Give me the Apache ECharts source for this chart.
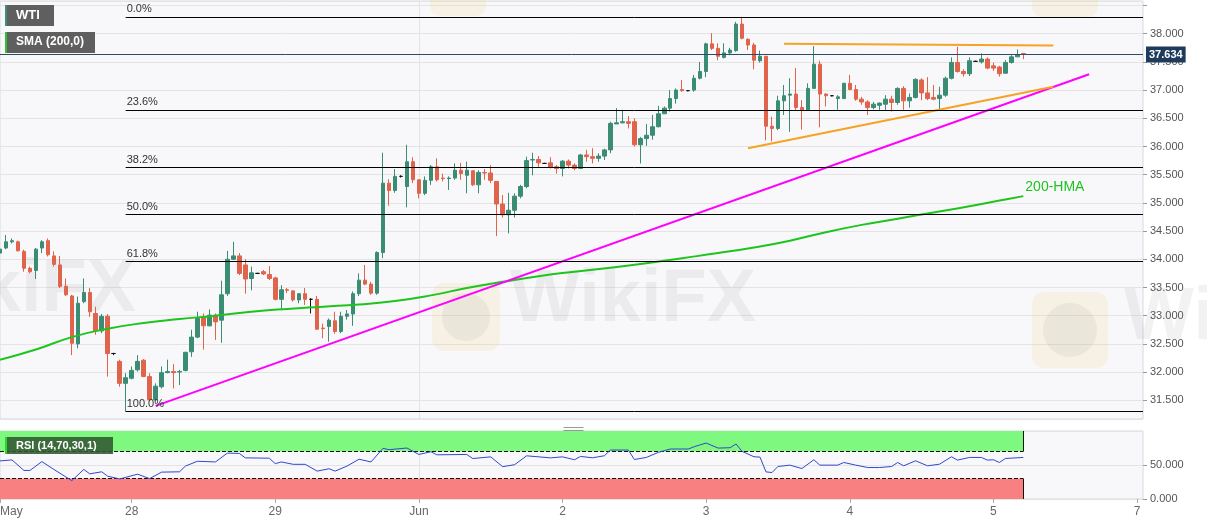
<!DOCTYPE html>
<html>
<head>
<meta charset="utf-8">
<title>WTI</title>
<script src="https://cdn.jsdelivr.net/npm/echarts@6/dist/echarts.min.js"></script>
<style>
html, body { margin: 0; padding: 0; background: #fff; }
#chart { width: 1207px; height: 526px; }
</style>
</head>
<body>
<div id="chart"></div>
<script>
// hourly slots, May 27 02:00 .. Jun 7
var slotCount = 192;
var dayTicks = ['May', '28', '29', 'Jun', '2', '3', '4', '5', '7'];
var dayTickSlots = [0, 22, 46, 70, 94, 118, 142, 166, 190];
var monthSlot = 70;

// [open, close, low, high]
var candles = [
    [34.11, 34.18, 34.08, 34.20], [34.20, 34.31, 34.18, 34.43], [34.31, 34.33, 34.28, 34.37], [34.31, 34.15, 34.14, 34.33],
    [34.14, 33.84, 33.78, 34.17], [33.84, 33.78, 33.75, 33.87], [33.80, 34.18, 33.65, 34.20], [34.20, 34.31, 34.11, 34.34],
    [34.33, 34.08, 34.05, 34.37], [34.06, 33.91, 33.87, 34.14], [33.90, 33.52, 33.49, 34.06], [33.52, 33.37, 33.35, 33.66],
    [33.35, 32.51, 32.30, 33.37], [32.50, 33.22, 32.42, 33.34], [33.25, 33.41, 33.22, 33.66], [33.41, 33.07, 32.98, 33.49],
    [33.04, 32.73, 32.66, 33.16], [32.73, 32.99, 32.69, 33.03], [32.99, 32.33, 31.92, 33.03], [32.33, 32.33, 32.30, 32.34],
    [32.19, 31.80, 31.74, 32.22], [31.80, 31.90, 31.30, 31.98], [31.89, 32.03, 31.87, 32.10], [32.04, 32.19, 32.01, 32.30],
    [32.21, 31.92, 31.91, 32.23], [31.92, 31.51, 31.48, 31.98], [31.51, 31.75, 31.48, 31.80], [31.74, 31.99, 31.71, 32.10],
    [31.99, 32.01, 31.98, 32.22], [32.01, 31.99, 31.71, 32.14], [32.00, 32.01, 31.77, 32.04], [32.03, 32.35, 32.01, 32.36],
    [32.36, 32.62, 32.27, 32.75], [32.62, 32.95, 32.60, 33.07], [32.98, 32.82, 32.40, 33.04], [32.82, 33.01, 32.81, 33.11],
    [33.01, 32.89, 32.57, 33.04], [32.92, 33.37, 32.52, 33.62], [33.39, 34.00, 33.35, 34.15], [34.00, 34.06, 33.99, 34.31],
    [34.06, 33.75, 33.72, 34.11], [33.90, 33.65, 33.39, 34.00], [33.66, 33.76, 33.45, 33.87], [33.75, 33.75, 33.74, 33.76],
    [33.78, 33.74, 33.72, 33.81], [33.73, 33.66, 33.63, 33.88], [33.67, 33.29, 33.27, 33.69], [33.29, 33.46, 33.10, 33.54],
    [33.46, 33.45, 33.40, 33.49], [33.44, 33.28, 33.25, 33.44], [33.28, 33.39, 33.22, 33.40], [33.39, 33.29, 33.19, 33.49],
    [33.29, 33.29, 33.04, 33.31], [33.29, 32.76, 32.75, 33.35], [32.78, 32.77, 32.60, 32.86], [32.81, 32.92, 32.54, 32.95],
    [32.91, 32.72, 32.68, 33.07], [32.72, 32.99, 32.69, 33.07], [32.99, 33.03, 32.93, 33.10], [33.03, 33.39, 32.82, 33.43],
    [33.39, 33.63, 33.35, 33.75], [33.63, 33.56, 33.54, 33.90], [33.56, 33.40, 33.37, 33.60], [33.40, 34.12, 33.37, 34.14],
    [34.12, 35.35, 34.02, 35.89], [35.35, 35.22, 34.95, 35.42], [35.22, 35.47, 35.18, 35.60], [35.47, 35.47, 35.45, 35.49],
    [35.29, 35.73, 34.92, 36.03], [35.73, 35.41, 35.35, 35.81], [35.41, 35.17, 35.08, 35.41], [35.17, 35.40, 35.14, 35.47],
    [35.40, 35.64, 35.32, 35.67], [35.64, 35.41, 35.38, 35.79], [35.44, 35.43, 35.38, 35.52], [35.43, 35.44, 35.23, 35.47],
    [35.44, 35.58, 35.41, 35.70], [35.58, 35.52, 35.41, 35.71], [35.49, 35.58, 35.17, 35.73], [35.57, 35.32, 35.30, 35.58],
    [35.32, 35.54, 35.17, 35.58], [35.54, 35.53, 35.41, 35.60], [35.53, 35.40, 35.35, 35.67], [35.38, 34.98, 34.41, 35.38],
    [34.98, 34.79, 34.74, 35.14], [34.79, 34.87, 34.46, 35.18], [34.87, 35.12, 34.74, 35.17], [35.12, 35.29, 35.08, 35.32],
    [35.29, 35.75, 35.26, 35.82], [35.76, 35.77, 35.49, 35.89], [35.77, 35.71, 35.64, 35.83], [35.70, 35.70, 35.69, 35.71],
    [35.71, 35.63, 35.61, 35.81], [35.64, 35.61, 35.52, 35.67], [35.61, 35.74, 35.47, 35.76], [35.74, 35.67, 35.61, 35.77],
    [35.67, 35.61, 35.58, 35.70], [35.61, 35.85, 35.60, 35.87], [35.85, 35.82, 35.73, 35.94], [35.82, 35.79, 35.70, 35.97],
    [35.79, 35.83, 35.73, 35.88], [35.83, 35.94, 35.76, 35.96], [35.94, 36.41, 35.88, 36.44], [36.40, 36.42, 36.40, 36.68],
    [36.42, 36.44, 36.41, 36.65], [36.44, 36.41, 36.32, 36.54], [36.44, 36.03, 36.00, 36.50], [36.03, 36.14, 35.70, 36.17],
    [36.14, 36.20, 36.01, 36.40], [36.20, 36.35, 36.12, 36.56], [36.35, 36.58, 36.34, 36.72], [36.58, 36.68, 36.58, 36.71],
    [36.68, 36.85, 36.62, 37.00], [36.85, 37.00, 36.76, 37.03], [37.01, 36.99, 36.97, 37.18], [36.99, 36.99, 36.98, 37.00],
    [37.00, 37.21, 36.97, 37.27], [37.21, 37.33, 37.19, 37.50], [37.33, 37.82, 37.23, 37.84], [37.82, 37.74, 37.71, 38.01],
    [37.74, 37.60, 37.53, 37.83], [37.58, 37.66, 37.56, 37.83], [37.66, 37.71, 37.62, 37.75], [37.70, 38.17, 37.68, 38.21],
    [38.17, 37.92, 37.90, 38.30], [37.90, 37.80, 37.71, 37.92], [37.80, 37.53, 37.37, 37.84], [37.52, 37.60, 37.49, 37.70],
    [37.60, 36.36, 36.11, 37.60], [36.36, 36.32, 36.09, 36.53], [36.32, 36.81, 36.29, 36.90], [36.81, 36.90, 36.56, 37.09],
    [36.91, 36.93, 36.26, 37.21], [36.93, 36.69, 36.65, 37.39], [36.69, 36.65, 36.30, 36.82], [36.65, 37.03, 36.64, 37.12],
    [37.03, 37.46, 37.03, 37.78], [37.46, 36.93, 36.34, 37.52], [36.93, 36.90, 36.71, 36.94], [36.90, 36.90, 36.89, 36.91],
    [36.85, 36.88, 36.65, 36.91], [36.85, 37.12, 36.84, 37.13], [37.12, 37.01, 37.00, 37.27], [37.01, 36.84, 36.81, 37.09],
    [36.84, 36.79, 36.74, 36.88], [36.79, 36.69, 36.56, 36.82], [36.69, 36.75, 36.66, 36.79], [36.73, 36.77, 36.65, 36.78],
    [36.75, 36.84, 36.65, 36.91], [36.84, 36.78, 36.62, 36.90], [36.78, 37.03, 36.74, 37.05], [37.03, 36.81, 36.65, 37.07],
    [36.81, 36.87, 36.69, 36.94], [36.87, 37.19, 36.85, 37.21], [37.18, 36.95, 36.82, 37.21], [36.95, 36.85, 36.82, 37.23],
    [36.87, 36.84, 36.82, 37.09], [36.85, 36.91, 36.66, 37.06], [36.91, 37.21, 36.88, 37.24], [37.21, 37.49, 37.19, 37.58],
    [37.49, 37.33, 37.31, 37.77], [37.33, 37.29, 37.24, 37.37], [37.29, 37.52, 37.25, 37.58], [37.51, 37.51, 37.50, 37.52],
    [37.50, 37.55, 37.47, 37.65], [37.55, 37.39, 37.37, 37.58], [37.43, 37.39, 37.34, 37.49], [37.41, 37.29, 37.24, 37.43],
    [37.30, 37.49, 37.29, 37.53], [37.49, 37.59, 37.47, 37.62], [37.59, 37.63, 37.59, 37.72], [37.65, 37.634, 37.55, 37.66]
];

// [slot, value]
var smaPoints = [
    [0, 32.22], [6, 32.40], [12, 32.62], [18, 32.77], [24, 32.87], [30, 32.94], [36, 33.00], [42, 33.07],
    [48, 33.12], [54, 33.16], [60, 33.20], [66, 33.26], [72, 33.36], [78, 33.49], [84, 33.60], [90, 33.70],
    [96, 33.78], [102, 33.85], [108, 33.93], [114, 34.02], [120, 34.11], [126, 34.21], [132, 34.33], [138, 34.48],
    [144, 34.61], [150, 34.72], [156, 34.83], [162, 34.94], [168, 35.06], [171, 35.12]
];

var rsiPoints = [
    [0, 56], [2, 57.5], [4, 42], [5, 42], [7, 55], [9, 43.5], [12, 27], [14, 43.5], [15, 37], [17, 40],
    [18, 33.5], [20, 29.5], [23, 36.5], [25, 30], [27, 39.5], [30, 40], [31, 48.5], [33, 55.5], [36, 54.5], [38, 67.5],
    [40, 67], [41, 60.5], [45, 60], [46, 52], [47, 54.5], [49, 51], [51, 51], [53, 41], [55, 44.5], [56, 41],
    [58, 48.5], [60, 58.5], [62, 54.5], [64, 74.5], [65, 72.5], [68, 75], [70, 65.5], [72, 69.5], [73, 65], [78, 65.5],
    [79, 59.5], [82, 62], [84, 47.5], [86, 50.5], [88, 63.5], [92, 60.5], [94, 62], [96, 57.7], [97, 62.6], [99, 60.6],
    [101, 63.6], [102, 72], [105, 72], [106, 58.1], [108, 61.1], [110, 68.5], [112, 73.5], [115, 73.5], [116, 76.9], [118, 82.3],
    [120, 74.9], [122, 75.4], [123, 80.9], [124, 70], [126, 62.1], [127, 61.6], [128, 39.9], [129, 38.9], [130, 47.8], [132, 49.8],
    [134, 44.8], [136, 57.7], [137, 49.8], [140, 49.8], [141, 53.7], [143, 49.8], [145, 46.3], [147, 46.3], [149, 47.8], [150, 53.7],
    [151, 48.8], [153, 56.2], [155, 48.8], [157, 51.2], [159, 62.1], [160, 57.2], [162, 61.1], [164, 61.1], [165, 57.2], [166, 57.7],
    [167, 53.7], [168, 59.6], [171, 61.1]
];

var fibLevels = [38.30, 36.65, 35.63, 34.80, 33.97, 31.30];
var fibLabels = ['0.0%', '23.6%', '38.2%', '50.0%', '61.8%', '100.0%'];
var fibStartSlot = 21;
var lastPrice = 37.634;

var resistanceLine = [[131, 37.82], [176, 37.79]];
var supportLine = [[125, 35.97], [176, 37.06]];
var trendLine = [[26, 31.40], [182, 37.28]];

var rsiOverbought = [70, 100];
var rsiOversold = [0, 30];
var lastSlot = candles.length - 1;

var categories = [];
for (var i = 0; i < slotCount; i++) {
    categories.push('slot ' + i);
}

function isDayTick(index) {
    return dayTickSlots.indexOf(index) >= 0;
}

var fibMarks = fibLevels.map(function (lvl, k) {
    return [
        {
            coord: [fibStartSlot, lvl],
            label: {
                show: true,
                position: 'insideStartTop',
                formatter: fibLabels[k],
                color: '#333',
                fontSize: 11,
                distance: [1, 2]
            }
        },
        { coord: [slotCount - 1, lvl] }
    ];
});

var chart = echarts.init(document.getElementById('chart'));
chart.setOption({
    animation: false,
    backgroundColor: '#fff',
    textStyle: { fontFamily: 'Liberation Sans, Arial, sans-serif' },
    grid: [
        {
            left: 0, right: 64, top: 1, height: 418, show: true,
            backgroundColor: '#f8f8fa', borderColor: '#d6d9e1', borderWidth: 1,
            outerBoundsMode: 'none'
        },
        {
            left: 0, right: 64, top: 431, height: 68, show: true,
            backgroundColor: '#f8f8fa', borderColor: '#d6d9e1', borderWidth: 1,
            outerBoundsMode: 'none'
        }
    ],
    xAxis: [
        {
            type: 'category', gridIndex: 0, data: categories, boundaryGap: false,
            axisLine: { show: false }, axisTick: { show: false }, axisLabel: { show: false },
            splitLine: {
                show: true,
                interval: function (index) { return index === monthSlot; },
                lineStyle: { color: '#e3e3e3' }
            }
        },
        {
            type: 'category', gridIndex: 1, data: categories, boundaryGap: false,
            axisLine: { show: false },
            axisTick: { show: true, interval: isDayTick, length: 4, lineStyle: { color: '#aaa' } },
            axisLabel: {
                interval: isDayTick,
                formatter: function (value, index) {
                    return dayTicks[dayTickSlots.indexOf(index)];
                },
                color: '#666', fontSize: 12, margin: 7, alignMinLabel: 'left'
            },
            splitLine: {
                show: true,
                interval: function (index) { return index === monthSlot; },
                lineStyle: { color: '#e3e3e3' }
            }
        }
    ],
    yAxis: [
        {
            type: 'value', gridIndex: 0, position: 'right', scale: true,
            min: 31.168, max: 38.58, splitNumber: 15,
            axisLine: { show: false },
            axisTick: { show: true, length: 4, lineStyle: { color: '#999' } },
            axisLabel: {
                color: '#555', fontSize: 11, margin: 7,
                showMinLabel: false, showMaxLabel: false,
                formatter: function (v) { return v > 38.2 ? '' : v.toFixed(3); }
            },
            splitLine: { lineStyle: { color: '#e4e4e4' } }
        },
        {
            type: 'value', gridIndex: 1, position: 'right',
            min: 0, max: 100, interval: 50,
            axisLine: { show: false },
            axisTick: { show: true, length: 4, lineStyle: { color: '#999' } },
            axisLabel: {
                color: '#555', fontSize: 11, margin: 7, showMaxLabel: false,
                formatter: function (v) { return v.toFixed(3); }
            },
            splitLine: { lineStyle: { color: '#e4e4e4' } }
        }
    ],
    series: [
        {
            name: 'WTI',
            type: 'candlestick',
            xAxisIndex: 0, yAxisIndex: 0,
            data: candles,
            barWidth: 4,
            itemStyle: {
                color: '#3a8d74', color0: '#e0644c',
                borderColor: '#3a8d74', borderColor0: '#e0644c',
                borderColorDoji: '#111', borderWidth: 1
            },
            markLine: {
                silent: true, symbol: ['none', 'none'], animation: false,
                lineStyle: { color: '#000', width: 1, type: 'solid' },
                data: fibMarks.concat([
                    {
                        yAxis: lastPrice,
                        lineStyle: { color: '#2d4a69', width: 1, type: 'solid' },
                        label: {
                            show: true, position: 'end', distance: 3,
                            formatter: lastPrice.toFixed(3),
                            backgroundColor: '#1f3b5c', color: '#fff',
                            fontWeight: 'bold', fontSize: 11, padding: [3, 3, 2, 3]
                        }
                    }
                ])
            }
        },
        {
            name: 'SMA (200,0)',
            type: 'line',
            xAxisIndex: 0, yAxisIndex: 0,
            data: smaPoints,
            smooth: true, symbol: 'none', z: 3,
            lineStyle: { color: '#1ec41e', width: 2 },
            endLabel: {
                show: true, formatter: '200-HMA', color: '#1ec41e',
                fontSize: 14, offset: [-6, -9]
            }
        },
        {
            name: 'trend',
            type: 'line',
            xAxisIndex: 0, yAxisIndex: 0,
            data: trendLine, symbol: 'none', z: 4,
            lineStyle: { color: '#ff00ff', width: 2 }
        },
        {
            name: 'support',
            type: 'line',
            xAxisIndex: 0, yAxisIndex: 0,
            data: supportLine, symbol: 'none', z: 4,
            lineStyle: { color: '#f6a223', width: 2 }
        },
        {
            name: 'resistance',
            type: 'line',
            xAxisIndex: 0, yAxisIndex: 0,
            data: resistanceLine, symbol: 'none', z: 4,
            lineStyle: { color: '#f6a223', width: 2 }
        },
        {
            name: 'RSI',
            type: 'line',
            xAxisIndex: 1, yAxisIndex: 1,
            data: rsiPoints, symbol: 'none', z: 5,
            lineStyle: { color: '#3147cf', width: 1 },
            markArea: {
                silent: true,
                data: [
                    [{ coord: [0, rsiOverbought[0]], itemStyle: { color: '#7ff87f', opacity: 1 } },
                     { coord: [lastSlot, rsiOverbought[1]] }],
                    [{ coord: [0, rsiOversold[0]], itemStyle: { color: '#f98080', opacity: 1 } },
                     { coord: [lastSlot, rsiOversold[1]] }]
                ]
            },
            markLine: {
                silent: true, symbol: ['none', 'none'], animation: false,
                label: { show: false },
                lineStyle: { color: '#111', width: 1 },
                data: [
                    [{ coord: [0, rsiOverbought[0]], lineStyle: { type: 'dashed' } }, { coord: [lastSlot, rsiOverbought[0]] }],
                    [{ coord: [0, rsiOversold[1]], lineStyle: { type: 'dashed' } }, { coord: [lastSlot, rsiOversold[1]] }],
                    [{ coord: [lastSlot, rsiOverbought[0]], lineStyle: { type: 'solid' } }, { coord: [lastSlot, rsiOverbought[1]] }],
                    [{ coord: [lastSlot, rsiOversold[0]], lineStyle: { type: 'solid' } }, { coord: [lastSlot, rsiOversold[1]] }]
                ]
            }
        }
    ],
    graphic: [
        // faint watermarks
        { type: 'text', left: -110, top: 254, z: 1, silent: true,
          style: { text: 'WikiFX', font: 'bold 74px Liberation Sans', fill: 'rgba(110,110,110,0.09)' } },
        { type: 'text', left: 510, top: 264, z: 1, silent: true,
          style: { text: 'WikiFX', font: 'bold 74px Liberation Sans', fill: 'rgba(110,110,110,0.09)' } },
        { type: 'text', left: 1124, top: 282, z: 1, silent: true,
          style: { text: 'WikiFX', font: 'bold 74px Liberation Sans', fill: 'rgba(110,110,110,0.09)' } },
        { type: 'rect', left: 432, top: 283, z: 1, silent: true,
          shape: { width: 68, height: 68, r: 12 }, style: { fill: 'rgba(235,205,120,0.16)' } },
        { type: 'circle', left: 442, top: 293, z: 1, silent: true,
          shape: { r: 24 }, style: { fill: 'rgba(90,90,90,0.07)' } },
        { type: 'rect', left: 1032, top: 292, z: 1, silent: true,
          shape: { width: 76, height: 76, r: 12 }, style: { fill: 'rgba(235,205,120,0.16)' } },
        { type: 'circle', left: 1043, top: 303, z: 1, silent: true,
          shape: { r: 27 }, style: { fill: 'rgba(90,90,90,0.07)' } },
        { type: 'rect', left: 430, top: -40, z: 1, silent: true,
          shape: { width: 56, height: 56, r: 10 }, style: { fill: 'rgba(235,205,120,0.16)' } },
        { type: 'rect', left: 1032, top: -45, z: 1, silent: true,
          shape: { width: 66, height: 62, r: 10 }, style: { fill: 'rgba(235,205,120,0.16)' } },
        // pane resize handle
        { type: 'line', left: 561, top: 425, z: 10, silent: true,
          shape: { x1: 0, y1: 0, x2: 20, y2: 0 }, style: { stroke: '#999', lineWidth: 1 } },
        { type: 'line', left: 561, top: 428, z: 10, silent: true,
          shape: { x1: 0, y1: 0, x2: 20, y2: 0 }, style: { stroke: '#999', lineWidth: 1 } },
        // legend boxes
        { type: 'rect', left: 5, top: 5, z: 100, shape: { width: 49, height: 21 }, style: { fill: '#5f5f5f' } },
        { type: 'rect', left: 5, top: 5, z: 101, shape: { width: 2, height: 21 }, style: { fill: '#3b8f7d' } },
        { type: 'text', left: 16, top: 9, z: 102,
          style: { text: 'WTI', fill: '#fff', font: 'bold 13px Liberation Sans' } },
        { type: 'rect', left: 5, top: 32, z: 100, shape: { width: 90, height: 21 }, style: { fill: '#5f5f5f' } },
        { type: 'rect', left: 5, top: 32, z: 101, shape: { width: 2, height: 21 }, style: { fill: '#32c032' } },
        { type: 'text', left: 16, top: 36, z: 102,
          style: { text: 'SMA (200,0)', fill: '#fff', font: 'bold 12px Liberation Sans' } },
        { type: 'rect', left: 5, top: 437, z: 100, shape: { width: 108, height: 17 }, style: { fill: 'rgba(50,85,50,0.88)' } },
        { type: 'rect', left: 5, top: 437, z: 101, shape: { width: 2, height: 17 }, style: { fill: '#22dd22' } },
        { type: 'text', left: 16, top: 440, z: 102,
          style: { text: 'RSI (14,70,30,1)', fill: '#fff', font: 'bold 11px Liberation Sans' } }
    ]
});
</script>
</body>
</html>
